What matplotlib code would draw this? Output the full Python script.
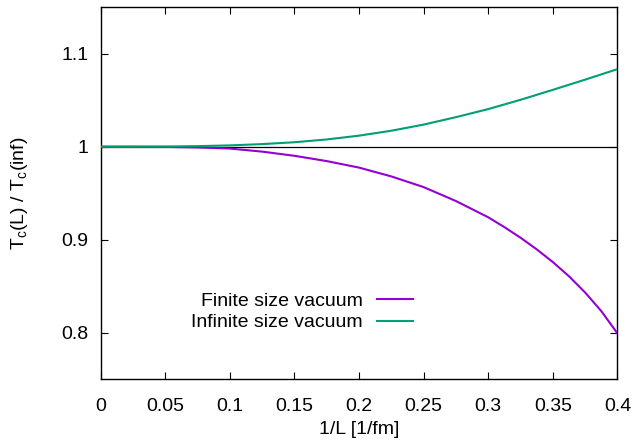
import matplotlib
matplotlib.use("Agg")
import matplotlib.pyplot as plt

plt.rcParams['font.family'] = ['Liberation Sans', 'DejaVu Sans']

inv_L_fin = [0.0, 0.025, 0.05, 0.075, 0.1, 0.125, 0.15, 0.175, 0.2, 0.225, 0.25,
             0.275, 0.3, 0.3125, 0.325, 0.3375, 0.35, 0.3625, 0.375, 0.3875, 0.4]
finite = [1.0, 1.0, 0.9998, 0.9992, 0.998, 0.9947, 0.9902, 0.9845, 0.9775, 0.968,
          0.9565, 0.9415, 0.9240, 0.9134, 0.9020, 0.8895, 0.8758, 0.8605, 0.8430,
          0.8230, 0.7990]
inv_L_inf = [0.0, 0.025, 0.05, 0.075, 0.1, 0.125, 0.15, 0.175, 0.2, 0.225, 0.25,
             0.275, 0.3, 0.325, 0.35, 0.375, 0.4]
infinite = [1.0, 1.0, 1.0002, 1.0006, 1.0014, 1.0028, 1.0048, 1.0078, 1.0119, 1.0172,
            1.0238, 1.0318, 1.0405, 1.0505, 1.0612, 1.0722, 1.0835]

xticks = [0, 0.05, 0.1, 0.15, 0.2, 0.25, 0.3, 0.35, 0.4]
xticklabels = ['0', '0.05', '0.1', '0.15', '0.2', '0.25', '0.3', '0.35', '0.4']
yticks = [0.8, 0.9, 1.0, 1.1]
yticklabels = ['0.8', '0.9', '1', '1.1']

FS = 14
fig = plt.figure(figsize=(6.36, 4.41), dpi=100)
ax = fig.add_axes([0.1583, 0.1406, 0.8126, 0.8428])

ax.axhline(1.0, color='black', lw=0.9, zorder=1)
ax.plot(inv_L_fin, finite, color='#9400d3', lw=1.5, label='Finite size vacuum', zorder=3)
ax.plot(inv_L_inf, infinite, color='#009e73', lw=1.5, label='Infinite size vacuum', zorder=3)

ax.set_xlim(0, 0.4)
ax.set_ylim(0.75, 1.15)
ax.set_xticks(xticks)
ax.set_xticklabels(xticklabels)
ax.set_yticks(yticks)
ax.set_yticklabels(yticklabels)
ax.tick_params(direction='in', top=True, right=True, length=5, width=0.8,
               labelsize=FS, colors='black')
ax.tick_params(axis='x', pad=14)
ax.tick_params(axis='y', pad=9)
for s in ax.spines.values():
    s.set_linewidth(1.0)

ax.set_xlabel('1/L [1/fm]', fontsize=FS, labelpad=4)
ax.set_ylabel(r'T$_\mathregular{c}$(L) / T$_\mathregular{c}$(inf)', fontsize=FS, labelpad=22)

leg = ax.legend(loc='lower right', bbox_to_anchor=(0.604, 0.128), frameon=False,
                markerfirst=False, fontsize=FS, handlelength=1.85, handletextpad=0.72,
                labelspacing=0.2, borderpad=0, borderaxespad=0)
for t in leg.get_texts():
    t.set_ha('right')

fig.savefig('out.png', dpi=100)
